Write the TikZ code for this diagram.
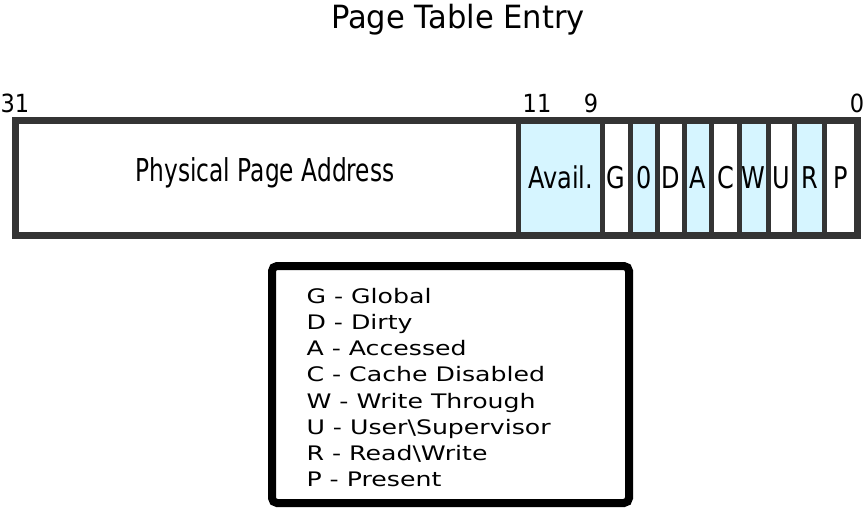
\documentclass[tikz,border=0pt]{standalone}
\usepackage{fontspec}
\setmainfont{DejaVu Sans}
\usetikzlibrary{positioning}
\definecolor{cellblue}{RGB}{214,245,255}
\definecolor{edgegray}{RGB}{52,52,52}
\tikzset{
  cell/.style={draw=edgegray, line width=5pt, minimum height=115pt, inner sep=0pt, outer sep=0pt,
    text height=22pt, text depth=0pt, font=\fontsize{30}{36}\selectfont},
  bitnum/.style={anchor=base, font=\fontsize{25}{30}\selectfont},
  keyline/.style={anchor=base west, font=\fontsize{20}{24}\selectfont}
}

\begin{document}
\begin{tikzpicture}[x=1pt, y=-1pt]
  \useasboundingbox (0,0) rectangle (864,512);
  % title
  \node[anchor=base, font=\fontsize{32}{38}\selectfont] (title) at (458,28) {\scalebox{0.955}[1]{Page Table Entry}};
  % bit numbers over the entry
  \node[bitnum] (b31) at (15,112) {\scalebox{0.9}[1]{31}};
  \node[bitnum] (b11) at (537,112) {\scalebox{0.9}[1]{11}};
  \node[bitnum] (b9) at (591,112) {\scalebox{0.9}[1]{9}};
  \node[bitnum] (b0) at (857,112) {\scalebox{0.9}[1]{0}};
  % the fields, left to right
  \node[cell, fill=white, minimum width=503pt] (ppa) at (267,177.5) {};
  \node[anchor=base, font=\fontsize{31.5}{38}\selectfont] (ppa-label) at (265,181) {\scalebox{0.74}[1]{Physical Page Address}};
  \foreach \l/\r/\t/\n/\f in {518.5/602.5/Avail./avail/cellblue, 602.5/630/G/g/white, 630/657.5/0/zero/cellblue,
      657.5/684.5/D/d/white, 684.5/711.5/A/a/cellblue, 711.5/739.5/C/c/white, 739.5/768/W/w/cellblue,
      768/794.5/U/u/white, 794.5/824.5/R/r/cellblue, 824.5/857/P/p/white}
    \node[cell, fill=\f, minimum width={(\r-\l)*1pt}] (\n) at ({(\l+\r)/2},177.5) {\scalebox{0.8}[1]{\t}};
  \draw[edgegray, line width=7pt] (ppa.north west) rectangle (p.south east);
  % legend
  \node[draw=black, line width=8pt, rounded corners=5pt, minimum width=357pt, minimum height=237pt] (legend) at (450.5,384.5) {};
  \foreach \k/\d [count=\i from 0] in {G/Global, D/Dirty, A/Accessed, C/Cache Disabled, W/Write Through,
      U/User\textbackslash Supervisor, R/Read\textbackslash Write, P/Present}
    \node[keyline] (key-\k) at (303,{303.5+26.14*\i}) {\scalebox{1.26}[1]{\k\ - \d}};
\end{tikzpicture}
\end{document}
